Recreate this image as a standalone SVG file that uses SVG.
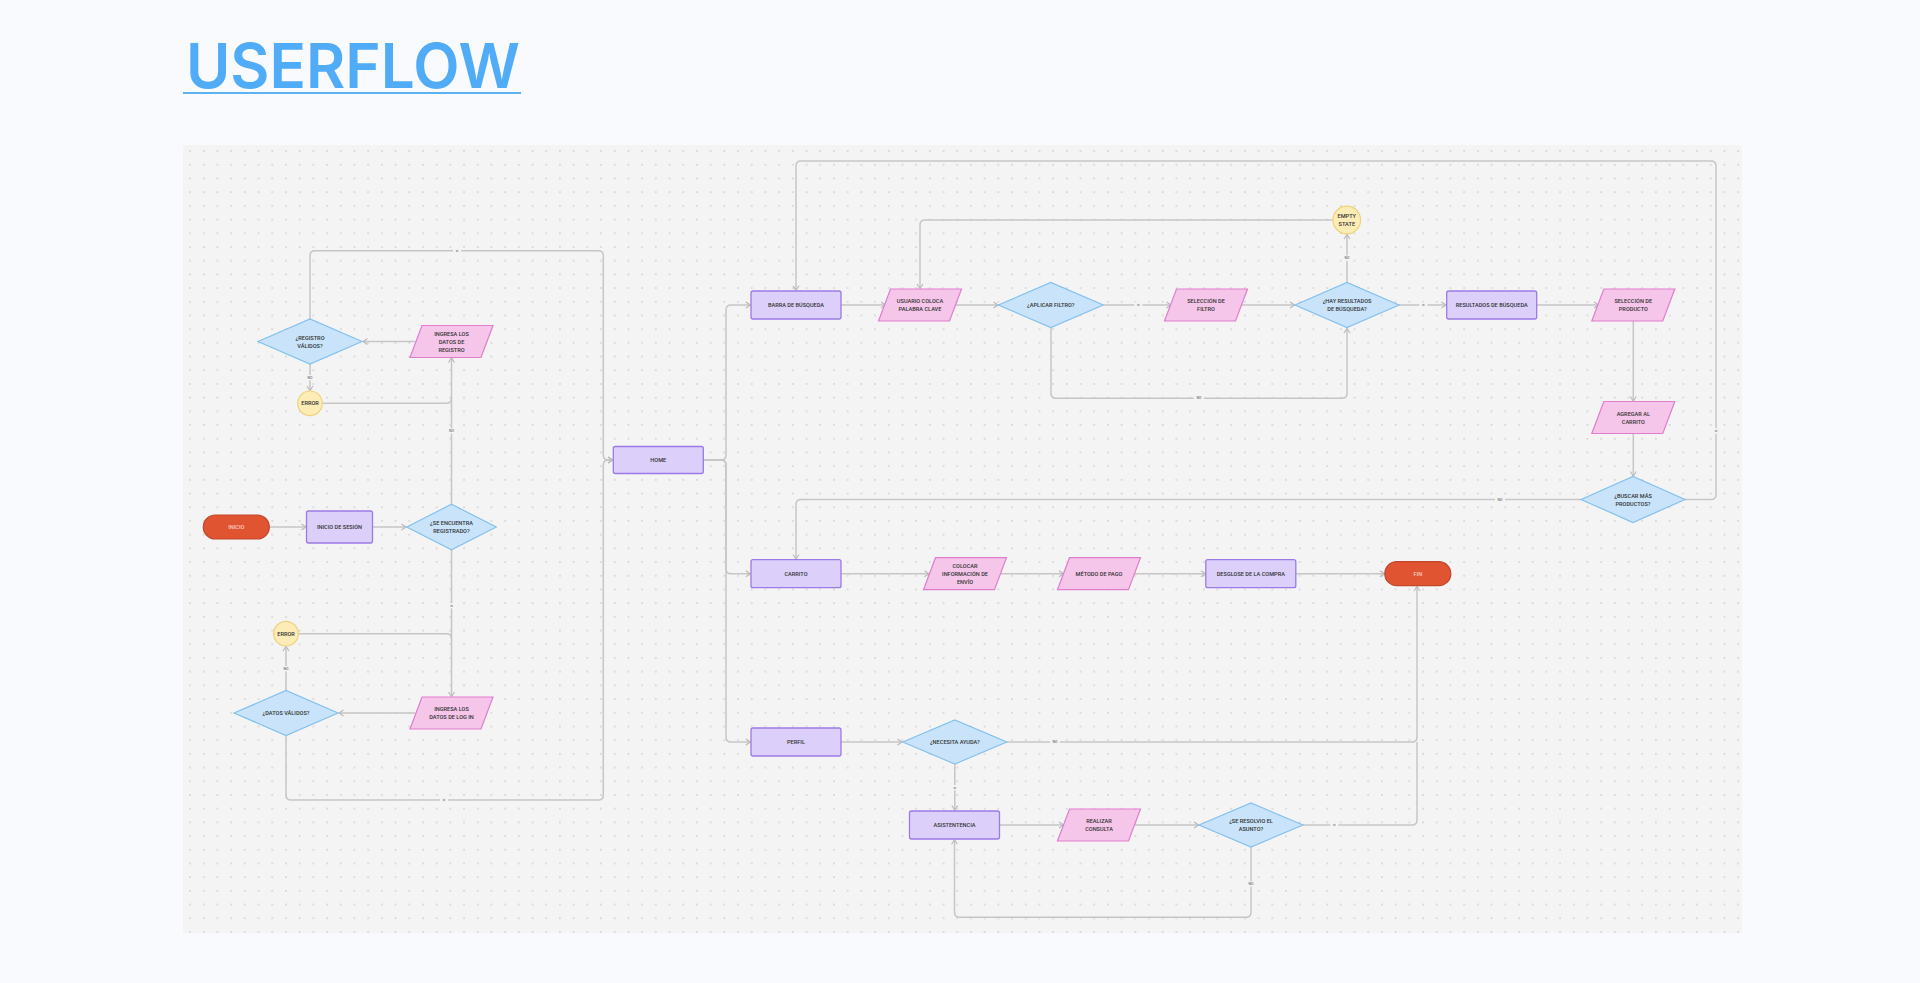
<svg xmlns="http://www.w3.org/2000/svg" width="1920" height="983" viewBox="0 0 1920 983">
<defs>
<pattern id="dots" x="183.2" y="144.2" width="13.7" height="13.7" patternUnits="userSpaceOnUse">
<circle cx="6.85" cy="6.85" r="0.95" fill="#d3d3d3"/>
</pattern>
<marker id="arr" viewBox="-6 -4 7 8" refX="0" refY="0" markerWidth="7" markerHeight="8" orient="auto" markerUnits="userSpaceOnUse">
<path d="M-4.5,-3 L0,0 L-4.5,3" fill="none" stroke="#b8b8b8" stroke-width="1.1"/>
</marker>
<style>
.t{font-family:Roboto,"Liberation Sans",sans-serif;font-size:5.6px;font-weight:500;fill:#333;text-anchor:middle;dominant-baseline:central}
.tw{fill:#f9cfc4}
.rect{fill:#dcd0fb;stroke:#9a7ae6;stroke-width:1.3}
.para{fill:#f6c6ea;stroke:#e07dcd;stroke-width:1.2}
.dia{fill:#c9e4fa;stroke:#82c0f0;stroke-width:1.2}
.circ{fill:#fdecb6;stroke:#efd27c;stroke-width:1.2}
.term{fill:#e05432;stroke:#c2462a;stroke-width:1.2}
.c path{fill:none;stroke:#c6c6c6;stroke-width:1.5}
.c path.a{marker-end:url(#arr)}
.lb rect{fill:#f4f4f4}
.lb text{font-family:Roboto,"Liberation Sans",sans-serif;font-size:3.6px;fill:#555;text-anchor:middle;dominant-baseline:central}
</style>
</defs>
<rect width="1920" height="983" fill="#f8fafe"/>
<g id="title">
<text x="186" y="87.7" font-family="Inter,'Liberation Sans',sans-serif" font-size="62" font-weight="600" fill="#50acf7" textLength="334" lengthAdjust="spacingAndGlyphs">USERFLOW</text>
<rect x="183" y="92" width="338" height="2" fill="#5cb2f5"/>
</g>
<g id="canvas">
<rect x="183" y="145" width="1559" height="788" fill="#f4f4f4"/>
<rect x="183" y="145" width="1559" height="788" fill="url(#dots)"/>
</g>
<g id="connectors" class="c">
<path class="a" d="M269.3,527 H306"/>
<path class="a" d="M372.3,527 H406"/>
<path class="a" d="M451.5,504.3 V358"/>
<path d="M322.3,403.3 H446.5 Q451.5,403.3 451.5,398.3"/>
<path class="a" d="M415,341.5 H363"/>
<path class="a" d="M310,364 V390.5"/>
<path class="a" d="M310,319 V255.7 Q310,250.7 315,250.7 H598.3 Q603.3,250.7 603.3,255.7 V455 Q603.3,460 608.3,460 H612.5"/>
<path class="a" d="M451.5,550 V696.5"/>
<path d="M298.3,633.7 H446.5 Q451.5,633.7 451.5,638.7"/>
<path class="a" d="M415,713 H339"/>
<path class="a" d="M286,690.7 V646.5"/>
<path class="a" d="M286,735.7 V795 Q286,800 291,800 H598.3 Q603.3,800 603.3,795 V465 Q603.3,460 608.3,460 H612.5"/>
<path class="a" d="M703.3,460 H721 Q726,460 726,455 V310 Q726,305 731,305 H750.3"/>
<path class="a" d="M703.3,460 H721 Q726,460 726,465 V568.7 Q726,573.7 731,573.7 H750.3"/>
<path class="a" d="M703.3,460 H721 Q726,460 726,465 V737 Q726,742 731,742 H750.3"/>
<path class="a" d="M841,305 H885.5"/>
<path class="a" d="M955.5,305 H998"/>
<path class="a" d="M1103.3,305 H1171"/>
<path class="a" d="M1241.5,305 H1294.5"/>
<path class="a" d="M1051,327.7 V393.3 Q1051,398.3 1056,398.3 H1342 Q1347,398.3 1347,393.3 V328.5"/>
<path class="a" d="M1347,282.7 V234.5"/>
<path class="a" d="M1332.7,220 H925 Q920,220 920,225 V288.5"/>
<path class="a" d="M1399,305 H1446"/>
<path class="a" d="M1536.7,305 H1598.5"/>
<path class="a" d="M1633.3,321 V401"/>
<path class="a" d="M1633.3,433.5 V476"/>
<path class="a" d="M1685,499.5 H1711 Q1716,499.5 1716,494.5 V166 Q1716,161 1711,161 H801 Q796,161 796,166 V290.3"/>
<path class="a" d="M1581,499.5 H801 Q796,499.5 796,504.5 V559"/>
<path class="a" d="M841,573.7 H929"/>
<path class="a" d="M1000.5,573.7 H1063.5"/>
<path class="a" d="M1134.5,573.7 H1205.5"/>
<path class="a" d="M1295.5,573.7 H1384.5"/>
<path class="a" d="M841,742 H902"/>
<path class="a" d="M1007,742 H1412 Q1417,742 1417,737 V586.5"/>
<path class="a" d="M954.8,764.3 V810"/>
<path class="a" d="M999.2,825 H1063.5"/>
<path class="a" d="M1134.5,825 H1198.5"/>
<path d="M1303,825 H1412 Q1417,825 1417,820 V742"/>
<path class="a" d="M1251,846.7 V912.3 Q1251,917.3 1246,917.3 H959.5 Q954.5,917.3 954.5,912.3 V839.8"/>
</g>
<g id="labels" class="lb">
<rect x="453" y="248" width="8" height="5.4"/><text x="457" y="250.7">si</text>
<rect x="305" y="375" width="10" height="5.4"/><text x="310" y="377.7">NO</text>
<rect x="446.5" y="428.3" width="10" height="5.4"/><text x="451.5" y="431">NO</text>
<rect x="447.5" y="603" width="8" height="5.4"/><text x="451.5" y="605.7">si</text>
<rect x="281" y="666" width="10" height="5.4"/><text x="286" y="668.7">NO</text>
<rect x="440" y="797.3" width="8" height="5.4"/><text x="444" y="800">si</text>
<rect x="1134.3" y="302.3" width="8" height="5.4"/><text x="1138.3" y="305">si</text>
<rect x="1194" y="395.6" width="10" height="5.4"/><text x="1199" y="398.3">NO</text>
<rect x="1342" y="255.6" width="10" height="5.4"/><text x="1347" y="258.3">NO</text>
<rect x="1419.3" y="302.3" width="8" height="5.4"/><text x="1423.3" y="305">si</text>
<rect x="1712" y="428.3" width="8" height="5.4"/><text x="1716" y="431">si</text>
<rect x="1495" y="496.8" width="10" height="5.4"/><text x="1500" y="499.5">NO</text>
<rect x="1050" y="739.3" width="10" height="5.4"/><text x="1055" y="742">NO</text>
<rect x="950.8" y="785" width="8" height="5.4"/><text x="954.8" y="787.7">si</text>
<rect x="1330.3" y="822.3" width="8" height="5.4"/><text x="1334.3" y="825">si</text>
<rect x="1246" y="881.3" width="10" height="5.4"/><text x="1251" y="884">NO</text>
</g>
<g id="n-inicio" transform="translate(236.3,527)">
<rect class="term" x="-33" y="-12" width="66" height="24" rx="12"/>
<text class="t tw" y="0">INICIO</text>
</g>
<g id="n-inicio-sesion" transform="translate(339.5,527)">
<rect class="rect" x="-33" y="-16" width="66" height="32" rx="2"/>
<text class="t" y="0">INICIO DE SESIÓN</text>
</g>
<g id="n-se-encuentra" transform="translate(451.5,527)">
<polygon class="dia" points="-44.8,0 0,-22.8 44.8,0 0,22.8"/>
<text class="t" y="-4">¿SE ENCUENTRA</text>
<text class="t" y="4">REGISTRADO?</text>
</g>
<g id="n-ingresa-registro" transform="translate(451.5,341.5)">
<polygon class="para" points="-29.5,-16 41.5,-16 29.5,16 -41.5,16"/>
<text class="t" y="-8">INGRESA LOS</text>
<text class="t" y="0">DATOS DE</text>
<text class="t" y="8">REGISTRO</text>
</g>
<g id="n-registro-validos" transform="translate(310,341.5)">
<polygon class="dia" points="-52,0 0,-22.5 52,0 0,22.5"/>
<text class="t" y="-4">¿REGISTRO</text>
<text class="t" y="4">VÁLIDOS?</text>
</g>
<g id="n-error1" transform="translate(310,403.3)">
<circle class="circ" r="12.3"/>
<text class="t" y="0">ERROR</text>
</g>
<g id="n-error2" transform="translate(286,633.7)">
<circle class="circ" r="12.3"/>
<text class="t" y="0">ERROR</text>
</g>
<g id="n-datos-validos" transform="translate(286,713)">
<polygon class="dia" points="-52,0 0,-22.5 52,0 0,22.5"/>
<text class="t" y="0">¿DATOS VÁLIDOS?</text>
</g>
<g id="n-ingresa-login" transform="translate(451.5,713)">
<polygon class="para" points="-29.5,-16 41.5,-16 29.5,16 -41.5,16"/>
<text class="t" y="-4">INGRESA LOS</text>
<text class="t" y="4">DATOS DE LOG IN</text>
</g>
<g id="n-home" transform="translate(658.3,460)">
<rect class="rect" x="-45" y="-13.5" width="90" height="27" rx="2"/>
<text class="t" y="0">HOME</text>
</g>
<g id="n-barra" transform="translate(796,305)">
<rect class="rect" x="-45" y="-14" width="90" height="28" rx="2"/>
<text class="t" y="0">BARRA DE BÚSQUEDA</text>
</g>
<g id="n-usuario" transform="translate(920,305)">
<polygon class="para" points="-29.5,-16 41.5,-16 29.5,16 -41.5,16"/>
<text class="t" y="-4">USUARIO COLOCA</text>
<text class="t" y="4">PALABRA CLAVE</text>
</g>
<g id="n-aplicar" transform="translate(1050.8,305)">
<polygon class="dia" points="-52.5,0 0,-22.5 52.5,0 0,22.5"/>
<text class="t" y="0">¿APLICAR FILTRO?</text>
</g>
<g id="n-sel-filtro" transform="translate(1206,305)">
<polygon class="para" points="-29.5,-16 41.5,-16 29.5,16 -41.5,16"/>
<text class="t" y="-4">SELECCIÓN DE</text>
<text class="t" y="4">FILTRO</text>
</g>
<g id="n-hay-resultados" transform="translate(1347,305)">
<polygon class="dia" points="-52,0 0,-22.5 52,0 0,22.5"/>
<text class="t" y="-4">¿HAY RESULTADOS</text>
<text class="t" y="4">DE BÚSQUEDA?</text>
</g>
<g id="n-empty" transform="translate(1346.8,220)">
<circle class="circ" r="13.8"/>
<text class="t" y="-3.7">EMPTY</text>
<text class="t" y="3.7">STATE</text>
</g>
<g id="n-resultados" transform="translate(1491.7,305)">
<rect class="rect" x="-45" y="-14" width="90" height="28" rx="2"/>
<text class="t" y="0">RESULTADOS DE BÚSQUEDA</text>
</g>
<g id="n-sel-producto" transform="translate(1633.3,305)">
<polygon class="para" points="-29.5,-16 41.5,-16 29.5,16 -41.5,16"/>
<text class="t" y="-4">SELECCIÓN DE</text>
<text class="t" y="4">PRODUCTO</text>
</g>
<g id="n-agregar" transform="translate(1633.3,417.5)">
<polygon class="para" points="-29.5,-16 41.5,-16 29.5,16 -41.5,16"/>
<text class="t" y="-4">AGREGAR AL</text>
<text class="t" y="4">CARRITO</text>
</g>
<g id="n-buscar-mas" transform="translate(1633,499.5)">
<polygon class="dia" points="-52,0 0,-23 52,0 0,23"/>
<text class="t" y="-4">¿BUSCAR MÁS</text>
<text class="t" y="4">PRODUCTOS?</text>
</g>
<g id="n-carrito" transform="translate(796,573.7)">
<rect class="rect" x="-45" y="-14" width="90" height="28" rx="2"/>
<text class="t" y="0">CARRITO</text>
</g>
<g id="n-colocar" transform="translate(965,573.7)">
<polygon class="para" points="-29.5,-16 41.5,-16 29.5,16 -41.5,16"/>
<text class="t" y="-8">COLOCAR</text>
<text class="t" y="0">INFORMACIÓN DE</text>
<text class="t" y="8">ENVÍO</text>
</g>
<g id="n-metodo" transform="translate(1099,573.7)">
<polygon class="para" points="-29.5,-16 41.5,-16 29.5,16 -41.5,16"/>
<text class="t" y="0">MÉTODO DE PAGO</text>
</g>
<g id="n-desglose" transform="translate(1250.8,573.7)">
<rect class="rect" x="-45" y="-14" width="90" height="28" rx="2"/>
<text class="t" y="0">DESGLOSE DE LA COMPRA</text>
</g>
<g id="n-fin" transform="translate(1417.8,573.7)">
<rect class="term" x="-33" y="-12" width="66" height="24" rx="12"/>
<text class="t tw" y="0">FIN</text>
</g>
<g id="n-perfil" transform="translate(796,742)">
<rect class="rect" x="-45" y="-14" width="90" height="28" rx="2"/>
<text class="t" y="0">PERFIL</text>
</g>
<g id="n-necesita" transform="translate(954.8,742)">
<polygon class="dia" points="-52,0 0,-22 52,0 0,22"/>
<text class="t" y="0">¿NECESITA AYUDA?</text>
</g>
<g id="n-asistencia" transform="translate(954.5,825)">
<rect class="rect" x="-45" y="-14" width="90" height="28" rx="2"/>
<text class="t" y="0">ASISTENTENCIA</text>
</g>
<g id="n-realizar" transform="translate(1099,825)">
<polygon class="para" points="-29.5,-16 41.5,-16 29.5,16 -41.5,16"/>
<text class="t" y="-4">REALIZAR</text>
<text class="t" y="4">CONSULTA</text>
</g>
<g id="n-resolvio" transform="translate(1251,825)">
<polygon class="dia" points="-52,0 0,-22 52,0 0,22"/>
<text class="t" y="-4">¿SE RESOLVIO EL</text>
<text class="t" y="4">ASUNTO?</text>
</g>
</svg>
